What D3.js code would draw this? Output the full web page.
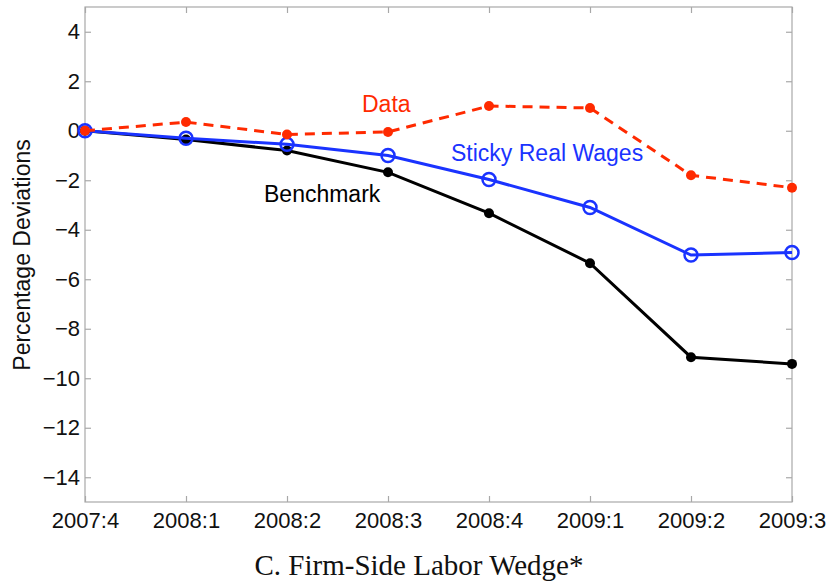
<!DOCTYPE html>
<html>
<head>
<meta charset="utf-8">
<script src="https://cdn.jsdelivr.net/npm/d3@7"></script>
<style>
  body { margin: 0; background: #fff; }
  text { font-family: "Liberation Sans", Arial, sans-serif; }
</style>
</head>
<body>
<svg id="chart" width="832" height="586"></svg>
<script>
// quarters on the x axis
var quarters = ["2007:4", "2008:1", "2008:2", "2008:3", "2008:4", "2009:1", "2009:2", "2009:3"];
var yTicks = [-14, -12, -10, -8, -6, -4, -2, 0, 2, 4];

// series
var dataSeries = [0, 0.35, -0.15, -0.05, 1.0, 0.92, -1.8, -2.3];
var stickySeries = [0, -0.3, -0.55, -1.0, -1.97, -3.1, -5.02, -4.92];
var benchSeries = [0, -0.35, -0.8, -1.68, -3.33, -5.35, -9.15, -9.42];

var svg = d3.select("#chart");
var m = { left: 85, right: 40, top: 7, bottom: 84 };
var W = 832 - m.left - m.right, H = 586 - m.top - m.bottom;
var g = svg.append("g").attr("transform", "translate(" + m.left + "," + m.top + ")");

var x = d3.scalePoint().domain(quarters).range([0, W]);
var y = d3.scaleLinear().domain([-15, 5]).range([H, 0]);

// box
g.append("rect").attr("width", W).attr("height", H)
  .attr("fill", "none").attr("stroke", "#a8a8a8").attr("stroke-width", 1.2);

// axes (ticks point inward, mirrored on top/right)
var axB = g.append("g").attr("transform", "translate(0," + H + ")")
  .call(d3.axisBottom(x).tickSize(-6).tickPadding(10));
var axT = g.append("g").call(d3.axisTop(x).tickSize(-6).tickFormat(""));
var axL = g.append("g")
  .call(d3.axisLeft(y).tickValues(yTicks).tickSize(-6).tickPadding(5)
    .tickFormat(function(d) { return d < 0 ? "\u2212" + Math.abs(d) : d; }));
var axR = g.append("g").attr("transform", "translate(" + W + ",0)")
  .call(d3.axisRight(y).tickValues(yTicks).tickSize(-6).tickFormat(""));
[axB, axT, axL, axR].forEach(function(a) {
  a.select(".domain").remove();
  a.selectAll("line").attr("stroke", "#a8a8a8").attr("stroke-width", 1.2);
  a.selectAll("text").attr("font-size", 22).attr("fill", "#111");
});

var line = d3.line().x(function(d, i) { return x(quarters[i]); }).y(function(d) { return y(d); });

// benchmark
g.append("path").datum(benchSeries).attr("d", line)
  .attr("fill", "none").attr("stroke", "#000").attr("stroke-width", 3);
g.selectAll("circle.bench").data(benchSeries).enter().append("circle")
  .attr("class", "bench").attr("cx", function(d, i) { return x(quarters[i]); })
  .attr("cy", function(d) { return y(d); }).attr("r", 5).attr("fill", "#000");

// sticky real wages
g.append("path").datum(stickySeries).attr("d", line)
  .attr("fill", "none").attr("stroke", "#1a33ff").attr("stroke-width", 3);
g.selectAll("circle.sticky").data(stickySeries).enter().append("circle")
  .attr("class", "sticky").attr("cx", function(d, i) { return x(quarters[i]); })
  .attr("cy", function(d) { return y(d); }).attr("r", 6.5)
  .attr("fill", "none").attr("stroke", "#1a33ff").attr("stroke-width", 2.5);

// data
g.append("path").datum(dataSeries).attr("d", line)
  .attr("fill", "none").attr("stroke", "#ff2a00").attr("stroke-width", 3)
  .attr("stroke-dasharray", "10,7");
g.selectAll("circle.data").data(dataSeries).enter().append("circle")
  .attr("class", "data").attr("cx", function(d, i) { return x(quarters[i]); })
  .attr("cy", function(d) { return y(d); }).attr("r", 5).attr("fill", "#ff2a00");

// labels
svg.append("text").attr("x", 362).attr("y", 112).attr("font-size", 23)
  .attr("fill", "#ff2a00").text("Data");
svg.append("text").attr("x", 451).attr("y", 161).attr("font-size", 23)
  .attr("fill", "#1a33ff").text("Sticky Real Wages");
svg.append("text").attr("x", 264).attr("y", 202).attr("font-size", 23)
  .attr("fill", "#000").text("Benchmark");

svg.append("text").attr("transform", "translate(30,255) rotate(-90)")
  .attr("text-anchor", "middle").attr("font-size", 23).attr("fill", "#111")
  .text("Percentage Deviations");

svg.append("text").attr("x", 419).attr("y", 575).attr("text-anchor", "middle")
  .style("font-family", "'Liberation Serif', 'Times New Roman', serif")
  .attr("font-size", 29).attr("fill", "#111").text("C. Firm-Side Labor Wedge*");
</script>
</body>
</html>
